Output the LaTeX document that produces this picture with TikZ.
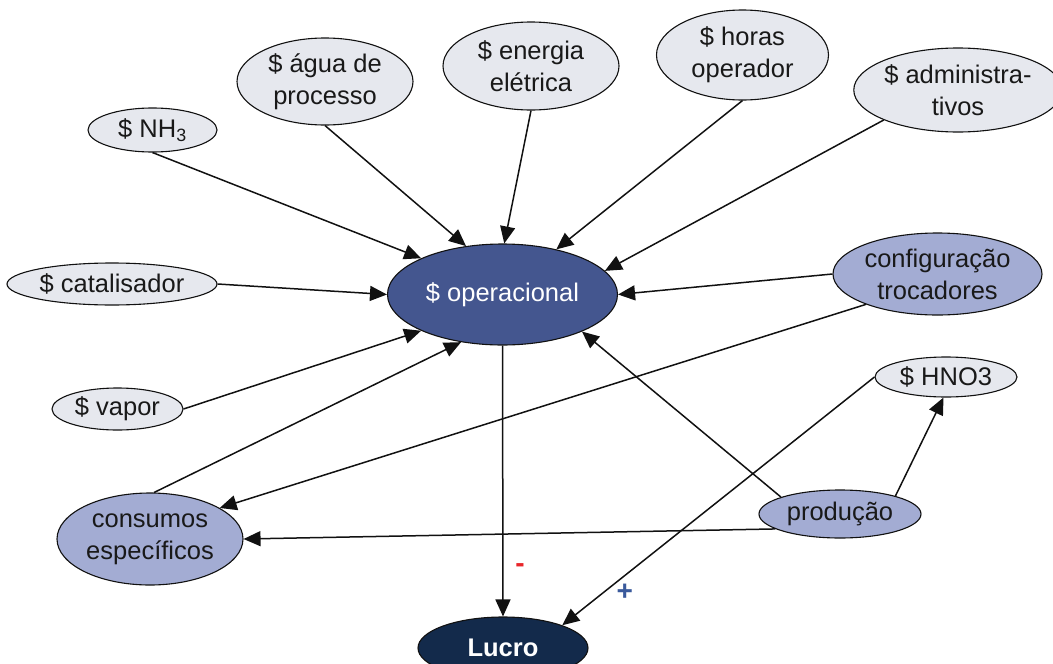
\documentclass[tikz,border=0pt]{standalone}
\usepackage{fontspec}
\setmainfont{Liberation Sans}
\usetikzlibrary{shapes.geometric,arrows.meta}
\definecolor{lightfill}{HTML}{E6E8EE}
\definecolor{midfill}{HTML}{A3ACD3}
\definecolor{opfill}{HTML}{44568F}
\definecolor{lucrofill}{HTML}{132A4B}
\definecolor{edgecol}{HTML}{111111}
\definecolor{minuscol}{HTML}{E8262A}
\definecolor{pluscol}{HTML}{3A5A9C}
\tikzset{
  bubble/.style={ellipse, draw=edgecol, line width=1.1pt, inner sep=0pt,
    align=center, text=black!90, font=\fontsize{25.5}{32}\selectfont},
  costnode/.style={bubble, fill=lightfill},
  factor/.style={bubble, fill=midfill},
  link/.style={draw=edgecol, line width=1.5pt,
    -{Triangle[length=17pt,width=15pt]}},
  signlabel/.style={font=\bfseries\fontsize{28}{28}\selectfont, inner sep=0pt}
}
\begin{document}
\begin{tikzpicture}[x=1pt,y=-1pt]
\useasboundingbox (0,0) rectangle (1053,664);

% cost items
\node[costnode, minimum width=129pt, minimum height=44pt] (nh3) at (152.5,130) {\$ NH\textsubscript{3}};
\node[costnode, minimum width=176pt, minimum height=87pt] (agua) at (325,81.5) {\$ água de\\processo};
\node[costnode, minimum width=176pt, minimum height=88pt] (ener) at (531,66) {\$ energia\\elétrica};
\node[costnode, minimum width=172pt, minimum height=90pt] (horas) at (742.5,55) {\$ horas\\operador};
\node[costnode, minimum width=206pt, minimum height=84pt] (adm) at (958,90) {\$ administra-\\tivos};
\node[costnode, minimum width=210pt, minimum height=42pt] (cat) at (112,284) {\$ catalisador};
\node[costnode, minimum width=131pt, minimum height=42pt] (vap) at (117.5,409) {\$ vapor};
\node[costnode, minimum width=142pt, minimum height=40pt] (hno) at (946,377) {\$ HNO3};

% influencing factors
\node[factor, minimum width=209pt, minimum height=82pt] (cfg) at (937.5,274) {configuração\\trocadores};
\node[factor, minimum width=186pt, minimum height=92pt] (cons) at (150,539) {consumos\\específicos};
\node[factor, minimum width=162pt, minimum height=48pt] (prod) at (840,514) {produção};

% central cost and result
\node[bubble, fill=opfill, text=white, minimum width=230pt, minimum height=101pt] (op) at (502.5,294.5) {\$ operacional};
\node[bubble, fill=lucrofill, text=white, font=\bfseries\fontsize{25.5}{32}\selectfont,
  minimum width=170pt, minimum height=62pt] (lucro) at (503,648) {Lucro};

% cost contributions
\draw[link] (nh3.south) -- (op.156);
\draw[link] (agua.south) -- (op.127);
\draw[link] (ener.south) -- (op.88);
\draw[link] (horas.south) -- (op.40);
\draw[link] (adm.202) -- (op.13);
\draw[link] (cat.east) -- (op.west);
\draw[link] (vap.east) -- (op.204);
\draw[link] (cfg.west) -- (op.east);
\draw[link] (cons.85) -- (op.229);
\draw[link] (prod.164) -- (op.-25);

% factor relations
\draw[link] (cfg.203) -- (cons.24);
\draw[link] (prod.193) -- (cons.east);
\draw[link] (prod.18) -- (hno.-97);

% effect on profit
\draw[link] (op.south) -- (lucro.north) node[pos=0.82, xshift=17pt, signlabel, text=minuscol] (minus) {-};
\draw[link] (hno.west) -- (lucro.21) node[pos=0.8, yshift=-17pt, signlabel, text=pluscol] (plus) {+};
\end{tikzpicture}
\end{document}
